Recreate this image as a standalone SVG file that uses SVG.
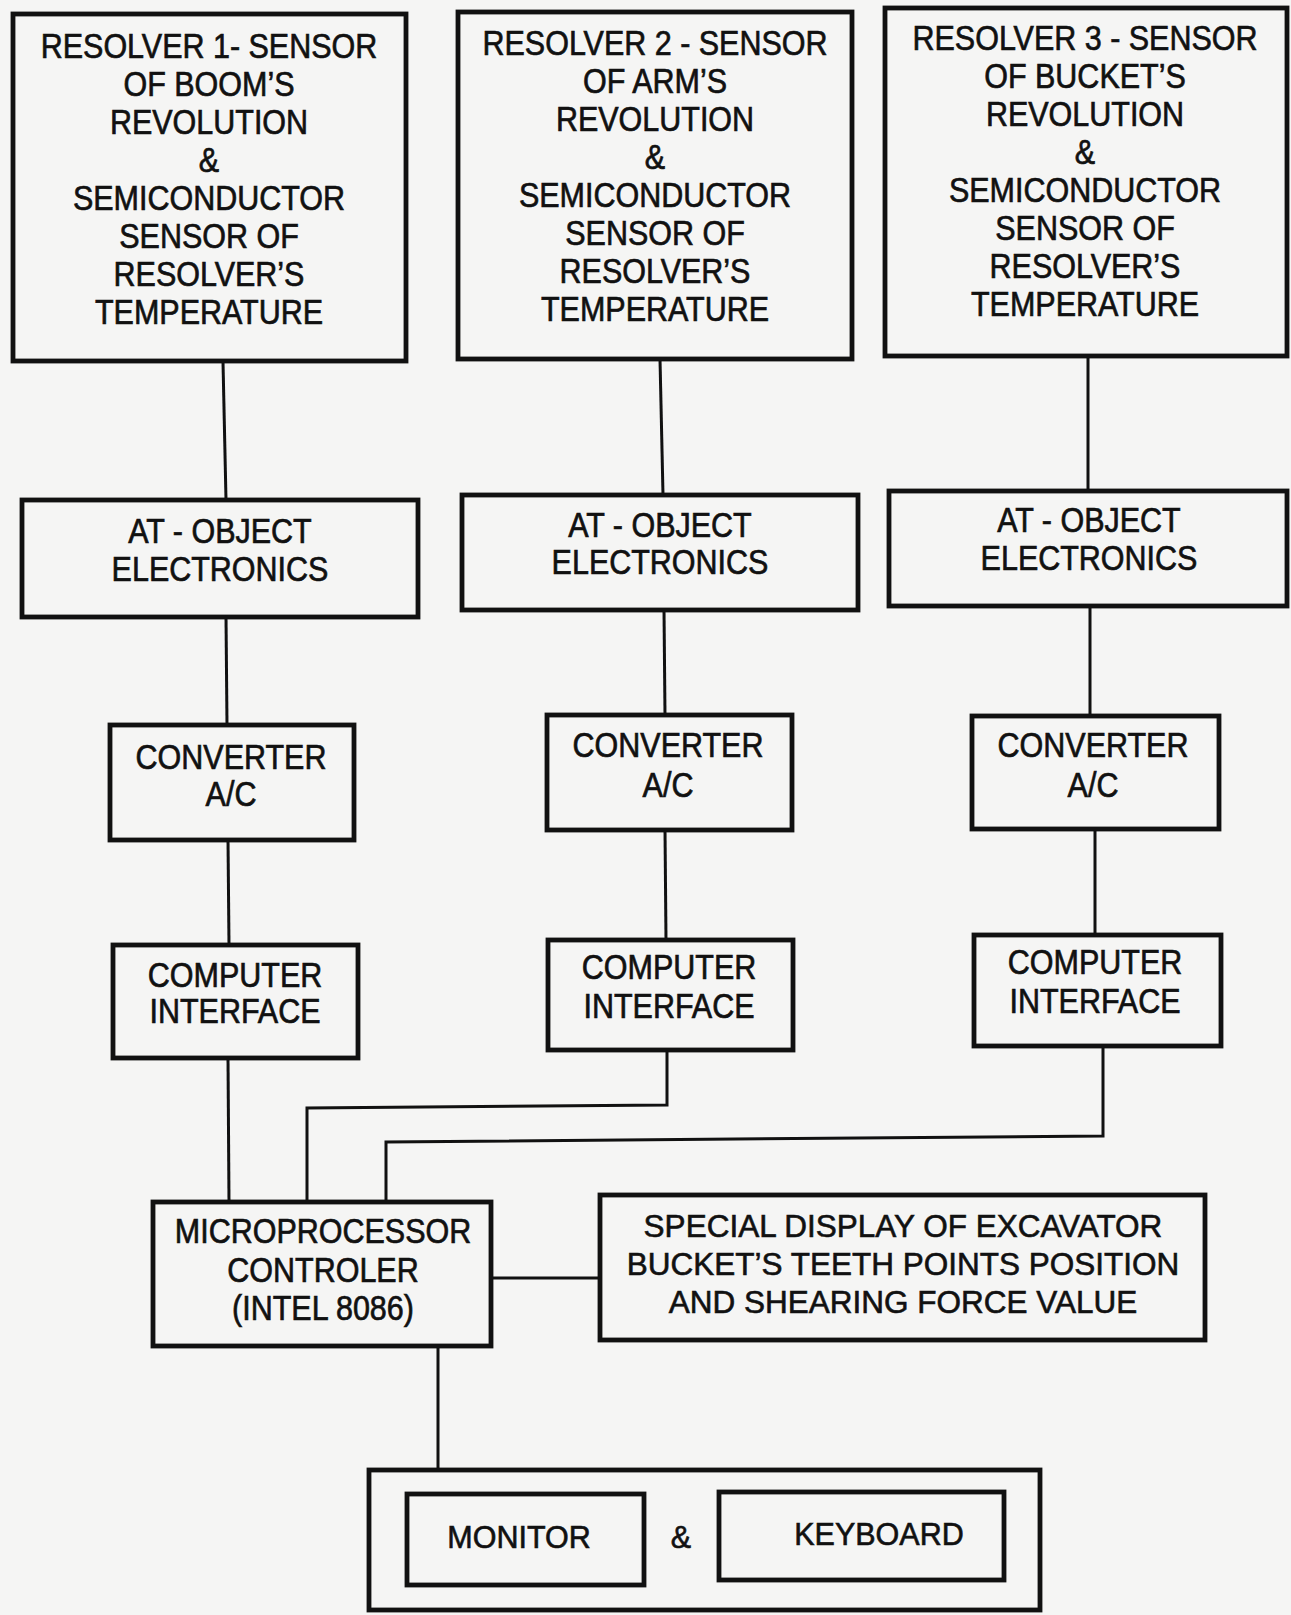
<svg xmlns="http://www.w3.org/2000/svg" width="1291" height="1615" viewBox="0 0 1291 1615">
<style>
.box{fill:none;stroke:#111;stroke-width:4.8}
.con{fill:none;stroke:#111;stroke-width:3}
.t{font-family:"Liberation Sans",Arial,Helvetica,sans-serif;font-size:30.5px;fill:#111;stroke:#111;stroke-width:0.6;text-anchor:middle}
.s{font-size:31.5px}
</style>
<rect width="1291" height="1615" fill="#f5f5f4"/>
<g id="connectors">
<path class="con" d="M223,362 L226,500"/>
<path class="con" d="M226,617 L227,725"/>
<path class="con" d="M228,840 L229,945"/>
<path class="con" d="M228,1058 L229,1202"/>
<path class="con" d="M660,359 L663,495"/>
<path class="con" d="M664,610 L665,715"/>
<path class="con" d="M665,830 L666,940"/>
<path class="con" d="M667,1050 L667,1105 L307,1108 L307,1202"/>
<path class="con" d="M1088,356 L1088,491"/>
<path class="con" d="M1090,606 L1090,716"/>
<path class="con" d="M1095,829 L1095,935"/>
<path class="con" d="M1103,1046 L1103,1136 L386,1142 L386,1202"/>
<path class="con" d="M491,1278 L600,1278"/>
<path class="con" d="M438,1346 L438,1470"/>
</g>
<g id="resolver1">
<rect class="box" x="13" y="14" width="393" height="347"/>
<text class="t" transform="translate(209,58) scale(1,1.14)"><tspan x="0" y="0">RESOLVER 1- SENSOR</tspan><tspan x="0" y="33.3">OF BOOM’S</tspan><tspan x="0" y="66.7">REVOLUTION</tspan><tspan x="0" y="100">&amp;</tspan><tspan x="0" y="133.3">SEMICONDUCTOR</tspan><tspan x="0" y="166.7">SENSOR OF</tspan><tspan x="0" y="200">RESOLVER’S</tspan><tspan x="0" y="233.3">TEMPERATURE</tspan></text>
</g>
<g id="resolver2">
<rect class="box" x="458" y="12" width="394" height="347"/>
<text class="t" transform="translate(655,55) scale(1,1.14)"><tspan x="0" y="0">RESOLVER 2 - SENSOR</tspan><tspan x="0" y="33.3">OF ARM’S</tspan><tspan x="0" y="66.7">REVOLUTION</tspan><tspan x="0" y="100">&amp;</tspan><tspan x="0" y="133.3">SEMICONDUCTOR</tspan><tspan x="0" y="166.7">SENSOR OF</tspan><tspan x="0" y="200">RESOLVER’S</tspan><tspan x="0" y="233.3">TEMPERATURE</tspan></text>
</g>
<g id="resolver3">
<rect class="box" x="885" y="8" width="402" height="348"/>
<text class="t" transform="translate(1085,50) scale(1,1.14)"><tspan x="0" y="0">RESOLVER 3 - SENSOR</tspan><tspan x="0" y="33.3">OF BUCKET’S</tspan><tspan x="0" y="66.7">REVOLUTION</tspan><tspan x="0" y="100">&amp;</tspan><tspan x="0" y="133.3">SEMICONDUCTOR</tspan><tspan x="0" y="166.7">SENSOR OF</tspan><tspan x="0" y="200">RESOLVER’S</tspan><tspan x="0" y="233.3">TEMPERATURE</tspan></text>
</g>
<g id="at1">
<rect class="box" x="22" y="500" width="396" height="117"/>
<text class="t" transform="translate(220,543) scale(1,1.14)"><tspan x="0" y="0">AT - OBJECT</tspan><tspan x="0" y="33.3">ELECTRONICS</tspan></text>
</g>
<g id="at2">
<rect class="box" x="462" y="495" width="396" height="115"/>
<text class="t" transform="translate(660,537) scale(1,1.14)"><tspan x="0" y="0">AT - OBJECT</tspan><tspan x="0" y="32.5">ELECTRONICS</tspan></text>
</g>
<g id="at3">
<rect class="box" x="889" y="491" width="398" height="115"/>
<text class="t" transform="translate(1089,532) scale(1,1.14)"><tspan x="0" y="0">AT - OBJECT</tspan><tspan x="0" y="33.3">ELECTRONICS</tspan></text>
</g>
<g id="conv1">
<rect class="box" x="110" y="725" width="244" height="115"/>
<text class="t" transform="translate(231,769) scale(1,1.14)"><tspan x="0" y="0">CONVERTER</tspan><tspan x="0" y="32.5">A/C</tspan></text>
</g>
<g id="conv2">
<rect class="box" x="547" y="715" width="245" height="115"/>
<text class="t" transform="translate(668,757) scale(1,1.14)"><tspan x="0" y="0">CONVERTER</tspan><tspan x="0" y="35">A/C</tspan></text>
</g>
<g id="conv3">
<rect class="box" x="972" y="716" width="247" height="113"/>
<text class="t" transform="translate(1093,757) scale(1,1.14)"><tspan x="0" y="0">CONVERTER</tspan><tspan x="0" y="35">A/C</tspan></text>
</g>
<g id="comp1">
<rect class="box" x="113" y="945" width="245" height="113"/>
<text class="t" transform="translate(235,987) scale(1,1.14)"><tspan x="0" y="0">COMPUTER</tspan><tspan x="0" y="31.6">INTERFACE</tspan></text>
</g>
<g id="comp2">
<rect class="box" x="548" y="940" width="245" height="110"/>
<text class="t" transform="translate(669,979) scale(1,1.14)"><tspan x="0" y="0">COMPUTER</tspan><tspan x="0" y="34.2">INTERFACE</tspan></text>
</g>
<g id="comp3">
<rect class="box" x="974" y="935" width="247" height="111"/>
<text class="t" transform="translate(1095,974) scale(1,1.14)"><tspan x="0" y="0">COMPUTER</tspan><tspan x="0" y="34.2">INTERFACE</tspan></text>
</g>
<g id="micro">
<rect class="box" x="153" y="1202" width="338" height="144"/>
<text class="t" transform="translate(323,1243) scale(1,1.14)"><tspan x="0" y="0">MICROPROCESSOR</tspan><tspan x="0" y="34.2">CONTROLER</tspan><tspan x="0" y="67.5">(INTEL 8086)</tspan></text>
</g>
<g id="display">
<rect class="box" x="600" y="1195" width="605" height="145"/>
<text class="t s" x="903" y="1237">SPECIAL DISPLAY OF EXCAVATOR</text>
<text class="t s" x="903" y="1275">BUCKET’S TEETH POINTS POSITION</text>
<text class="t s" x="903" y="1313">AND SHEARING FORCE VALUE</text>
</g>
<g id="terminal">
<rect class="box" x="369" y="1470" width="671" height="140"/>
<text class="t" x="681" y="1548">&amp;</text>
</g>
<g id="monitor">
<rect class="box" x="407" y="1494" width="237" height="91"/>
<text class="t" x="519" y="1548">MONITOR</text>
</g>
<g id="keyboard">
<rect class="box" x="719" y="1492" width="285" height="88"/>
<text class="t" x="879" y="1545">KEYBOARD</text>
</g>
</svg>
